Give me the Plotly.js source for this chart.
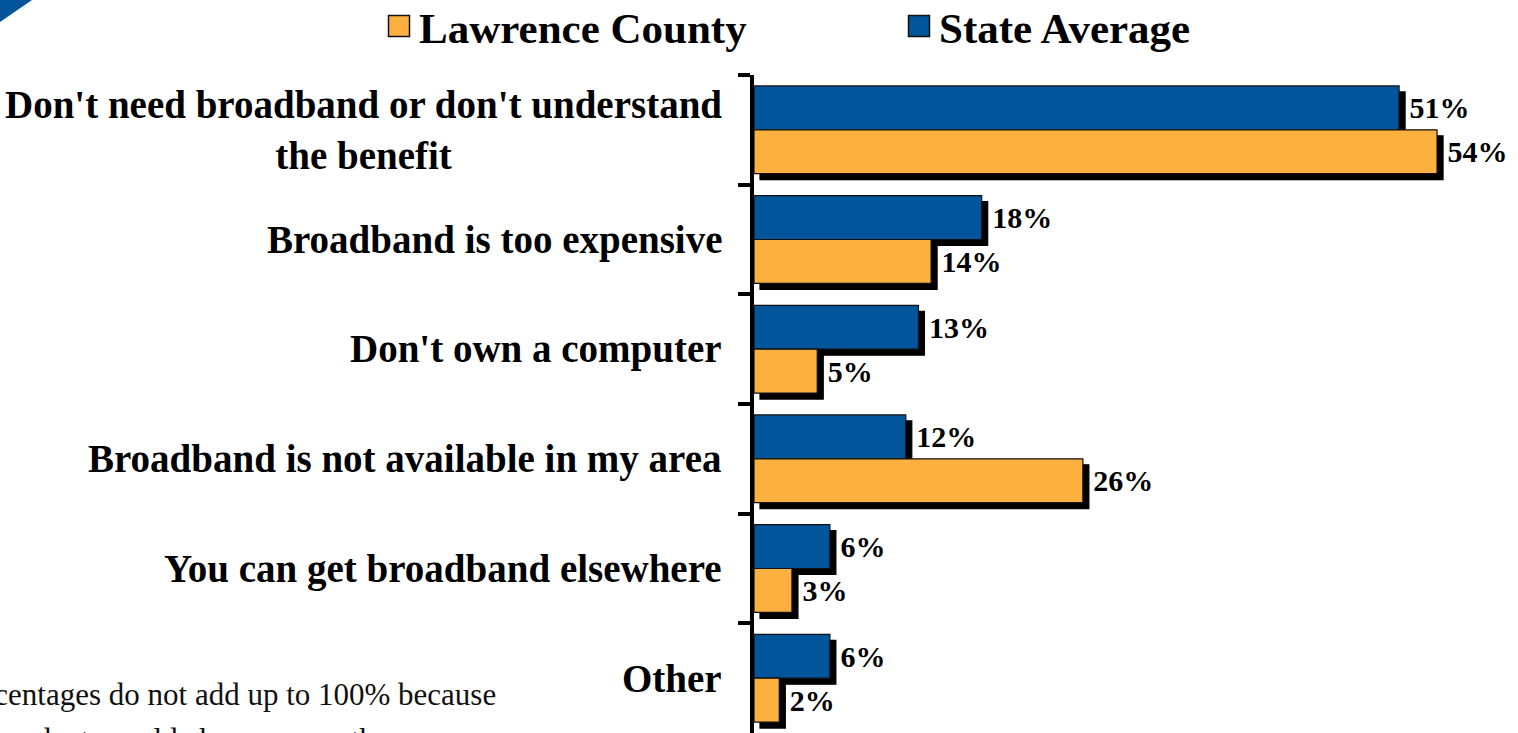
<!DOCTYPE html>
<html><head><meta charset="utf-8">
<script src="https://cdn.plot.ly/plotly-3.0.1.min.js"></script>
<style>
html,body{margin:0;padding:0;background:#fff;overflow:hidden;}
#chart{width:1518px;height:733px;}
.barlayer .point path{filter:drop-shadow(6px 6px 0 #000);}
</style></head><body><div id="chart"></div>
<script>
// ---- data ----
const categories = ["need", "expensive", "computer", "available", "elsewhere", "other"];
const categoryLabels = [
  "Don't need broadband or don't understand<br>the benefit",
  "Broadband is too expensive",
  "Don't own a computer",
  "Broadband is not available in my area",
  "You can get broadband elsewhere",
  "Other"
];
const stateAverage = [51, 18, 13, 12, 6, 6];
const lawrenceCounty = [54, 14, 5, 26, 3, 2];
const seriesNames = ["State Average", "Lawrence County"];
const footnoteLines = ["Percentages do not add up to 100% because", "respondents could choose more than one reason"];

// ---- style ----
const BLUE = "#02559A", ORANGE = "#FBB040";
const FONT = "Liberation Serif";
const W = 1518, H = 733, L = 754, T = 75;
const plotW = W - L, plotH = H - T;
const px2x = p => (p - L) / plotW;
const px2y = p => 1 - (p - T) / plotH;

function barTrace(name, vals, color) {
  return {
    type: "bar", orientation: "h", name: name,
    y: categories, x: vals,
    marker: {color: color, line: {color: "#111", width: 1.2}},
    text: vals.map(v => v + "%"),
    texttemplate: "\u00a0%{text}",
    textposition: "outside", cliponaxis: false, constraintext: "none",
    textfont: {family: FONT, size: 30, color: "#000", weight: "bold"},
    hoverinfo: "skip"
  };
}

const data = [
  barTrace(seriesNames[0], stateAverage, BLUE),
  barTrace(seriesNames[1], lawrenceCounty, ORANGE)
];

const annotations = categories.map((c, i) => ({
  xref: "paper", yref: "y", x: 0, y: c, xanchor: "right", yanchor: "middle",
  xshift: -30, text: categoryLabels[i], showarrow: false, align: "center",
  font: {family: FONT, size: 39, color: "#000", weight: "bold"}
}));
annotations.push({
  xref: "paper", yref: "paper", x: px2x(-49), y: px2y(694), xanchor: "left", yanchor: "middle",
  text: footnoteLines[0], showarrow: false, align: "left",
  font: {family: FONT, size: 31, color: "#111"}
});
annotations.push({
  xref: "paper", yref: "paper", x: px2x(-49), y: px2y(739), xanchor: "left", yanchor: "middle",
  text: footnoteLines[1], showarrow: false, align: "left",
  font: {family: FONT, size: 31, color: "#111"}
});

const layout = {
  width: W, height: H,
  margin: {l: L, r: 0, t: T, b: 0, pad: 0, autoexpand: false},
  paper_bgcolor: "#fff", plot_bgcolor: "#fff",
  barmode: "group", bargap: 0.2, bargroupgap: 0,
  showlegend: true,
  legend: {
    orientation: "h", traceorder: "reversed",
    x: px2x(379), xanchor: "left", y: px2y(26), yanchor: "middle",
    font: {family: FONT, size: 43, color: "#000", weight: "bold"},
    entrywidth: 475, itemclick: false, itemdoubleclick: false
  },
  xaxis: {range: [0, 60.4], visible: false, fixedrange: true},
  yaxis: {
    type: "category", autorange: "reversed",
    showline: true, linecolor: "#000", linewidth: 4,
    ticks: "outside", tickson: "boundaries", ticklen: 12, tickwidth: 4, tickcolor: "#000",
    showticklabels: false, showgrid: false, zeroline: false, fixedrange: true
  },
  annotations: annotations,
  shapes: [{
    type: "path", xref: "paper", yref: "paper",
    path: `M ${px2x(0)},${px2y(0)} L ${px2x(32)},${px2y(0)} L ${px2x(0)},${px2y(22)} Z`,
    fillcolor: BLUE, line: {width: 0}
  }],
  hovermode: false
};

Plotly.newPlot("chart", data, layout, {displayModeBar: false, staticPlot: true}).then(() => {
  document.querySelectorAll(".legend .legendpoints path").forEach(p => {
    p.setAttribute("d", "M10.5,10.5H-10.5V-10.5H10.5Z");
    p.style.strokeWidth = "1.5px";
    p.style.stroke = "#111";
  });
});
</script></body></html>
